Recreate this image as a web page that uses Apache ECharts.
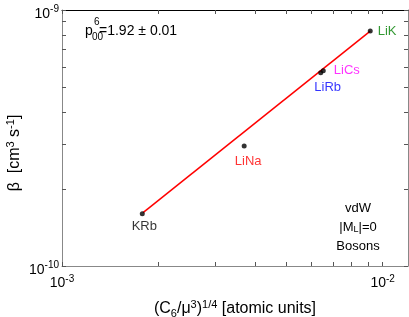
<!DOCTYPE html>
<html><head><meta charset="utf-8">
<script src="https://cdn.jsdelivr.net/npm/echarts@6/dist/echarts.min.js"></script>
<style>html,body{margin:0;padding:0;background:#fff}#c{width:409px;height:317px}</style>
</head><body><div id="c"></div>
<script>
var names = ['KRb','LiNa','LiRb','LiCs','LiK'];
var xVals = [1.78e-3, 3.70e-3, 6.41e-3, 6.53e-3, 9.15e-3];
var yVals = [1.60e-10, 2.94e-10, 5.69e-10, 5.79e-10, 8.28e-10];
var labelColors = ['#000000','#ff0000','#0000ff','#ff00ff','#008000'];
var fitX = [1.79e-3, 9.15e-3];
var fitY = [1.615e-10, 8.27e-10];
var xTicks = [1e-3,2e-3,3e-3,4e-3,5e-3,6e-3,7e-3,8e-3,9e-3,1e-2];
var yTicks = [1e-10,2e-10,3e-10,4e-10,5e-10,6e-10,7e-10,8e-10,9e-10,1e-9];
var xLabels = [1e-3,1e-2];
var yLabels = [1e-10,1e-9];
var xRange = [1e-3, 1.2e-2];
var yRange = [1e-10, 1e-9];

var FONT = 'Liberation Sans, Arial, Helvetica, sans-serif';
var labelPos = {
  KRb:{position:'bottom',distance:4,offset:[2,0]},
  LiNa:{position:'bottom',distance:6,offset:[4,0]},
  LiRb:{position:'bottom',distance:6,offset:[7,0]},
  LiCs:{position:'right',distance:8,offset:[0,0]},
  LiK:{position:'right',distance:5,offset:[0,0]}
};
var scatterData = names.map(function(n,i){
  var lp = labelPos[n];
  return {value:[xVals[i], yVals[i]], name:n,
    label:{show:true, formatter:n, color:labelColors[i], fontSize:13, fontFamily:FONT,
      position:lp.position, distance:lp.distance, offset:lp.offset}};
});
var fitData = fitX.map(function(x,i){return [x, fitY[i]];});

function supFmt(v){
  var e = Math.log10(v);
  if (Math.abs(e-Math.round(e))>1e-6) return '';
  return '10{sup|' + Math.round(e) + '}';
}
var rich = {sup:{fontSize:10, fontFamily:FONT, color:'#000', verticalAlign:'top', padding:[0,0,9,0]}};
function tickOpt(vals){
  return {show:true, inside:true, length:4, customValues:vals, lineStyle:{color:'#555', width:1}};
}

var chart = echarts.init(document.getElementById('c'));
chart.setOption({
  animation:false,
  grid:{left:62, top:10, width:346, height:256, outerBoundsMode:'none', containLabel:false},
  xAxis:[{
    type:'log', logBase:10, min:xRange[0], max:xRange[1], position:'bottom',
    axisLine:{show:true, lineStyle:{color:'#888'}}, axisTick:tickOpt(xTicks), splitLine:{show:false},
    axisLabel:{formatter:supFmt, customValues:xLabels, fontSize:14, fontFamily:FONT, color:'#000', margin:8, rich:rich},
    name:'(C{sub|6}/μ{sup|3}){sup|1/4} [atomic units]', nameLocation:'middle', nameGap:33,
    nameTextStyle:{fontSize:16, fontFamily:FONT, color:'#000', rich:{
      sup:{fontSize:11, fontFamily:FONT, color:'#000', verticalAlign:'top', padding:[0,0,9,0]},
      sub:{fontSize:11, fontFamily:FONT, color:'#000', verticalAlign:'bottom', padding:[7,0,0,0]}}}
  },{
    type:'log', logBase:10, min:xRange[0], max:xRange[1], position:'top',
    axisLine:{show:true, lineStyle:{color:'#000'}}, axisTick:tickOpt(xTicks), axisLabel:{show:false}, splitLine:{show:false}
  }],
  yAxis:[{
    type:'log', logBase:10, min:yRange[0], max:yRange[1], position:'left',
    axisLine:{show:true, lineStyle:{color:'#888'}}, axisTick:tickOpt(yTicks), splitLine:{show:false},
    axisLabel:{formatter:supFmt, customValues:yLabels, fontSize:14, fontFamily:FONT, color:'#000', margin:3, padding:[8,0,0,0], rich:rich}
  },{
    type:'log', logBase:10, min:yRange[0], max:yRange[1], position:'right',
    axisLine:{show:true, lineStyle:{color:'#888'}}, axisTick:tickOpt(yTicks), axisLabel:{show:false}, splitLine:{show:false}
  }],
  series:[
    {type:'line', data:fitData, symbol:'none', lineStyle:{color:'#ff0000', width:1.5}, z:2, silent:true},
    {type:'scatter', data:scatterData, symbolSize:5, itemStyle:{color:'#000'}, z:3}
  ],
  graphic:[
    {type:'text', x:15, y:153, rotation:Math.PI/2, style:{text:'β  [cm{sup|3} s{sup|-1}]', fontSize:16, fontFamily:FONT, fill:'#000', align:'center', verticalAlign:'middle',
      rich:{sup:{fontSize:11, fontFamily:FONT, verticalAlign:'top', padding:[0,0,9,0]}}}},
    {type:'text', left:85, top:24, style:{text:'p', fontSize:14, fontFamily:FONT, fill:'#000'}},
    {type:'text', left:94, top:17, style:{text:'6', fontSize:10, fontFamily:FONT, fill:'#000'}},
    {type:'text', left:92, top:32, style:{text:'00', fontSize:10, fontFamily:FONT, fill:'#000'}},
    {type:'text', left:99, top:24, style:{text:'=1.92 ± 0.01', fontSize:14, fontFamily:FONT, fill:'#000'}},
    {type:'text', x:358, y:208, style:{text:'vdW', fontSize:13, fontFamily:FONT, fill:'#000', align:'center', verticalAlign:'middle'}},
    {type:'text', x:358, y:227, style:{text:'|M{s|L}|=0', fontSize:13, fontFamily:FONT, fill:'#000', align:'center', verticalAlign:'middle',
      rich:{s:{fontSize:9, fontFamily:FONT, verticalAlign:'bottom', padding:[6,0,0,0]}}}},
    {type:'text', x:358, y:246, style:{text:'Bosons', fontSize:13, fontFamily:FONT, fill:'#000', align:'center', verticalAlign:'middle'}}
  ]
});
</script></body></html>
